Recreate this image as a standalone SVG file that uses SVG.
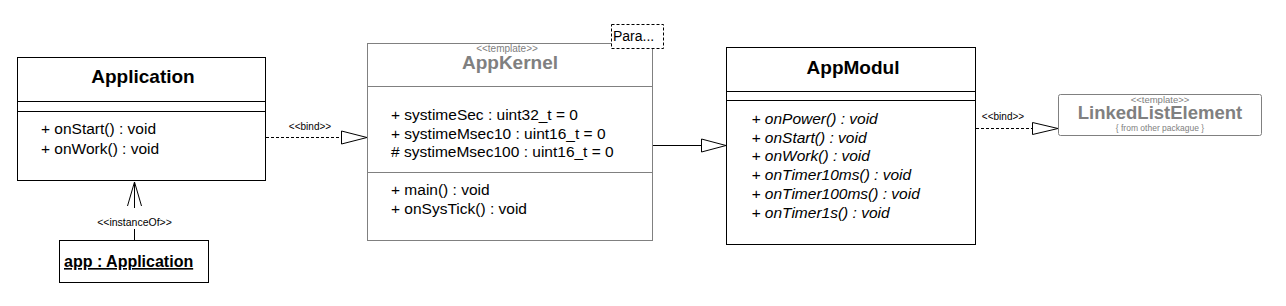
<svg xmlns="http://www.w3.org/2000/svg" width="1286" height="306" viewBox="0 0 1286 306">
<style>
text{font-family:"Liberation Sans",Arial,sans-serif;fill:#000}
.box{fill:#fff;stroke:#000;stroke-width:1}
.gbox{fill:#fff;stroke:#808080;stroke-width:1}
.line{stroke:#000;stroke-width:1;fill:none}
.gline{stroke:#808080;stroke-width:1;fill:none}
.dash{stroke:#000;stroke-width:1;fill:none;stroke-dasharray:3,2}
.head{fill:#fff;stroke:#000;stroke-width:1}
.title{font-size:19px;font-weight:bold;text-anchor:middle}
.gtitle{font-size:19px;font-weight:bold;text-anchor:middle;fill:#808080}
.member{font-size:15.5px}
.ital{font-size:15.5px;font-style:italic}
.small{font-size:10px;text-anchor:middle}
.gsmall{font-size:10px;text-anchor:middle;fill:#808080}
</style>
<rect width="1286" height="306" fill="#fff"/>
<g id="connectors">
<g id="instanceOf">
<line class="line" x1="134.5" y1="182" x2="134.5" y2="208"/>
<line class="line" x1="134.5" y1="229" x2="134.5" y2="240"/>
<polyline class="line" points="127.5,206 134.5,182 141.5,206"/>
<text class="small" x="134.5" y="226" style="font-size:10.5px">&lt;&lt;instanceOf&gt;&gt;</text>
</g>
<g id="bind1">
<line class="dash" x1="266" y1="137.5" x2="341" y2="137.5"/>
<polygon class="head" points="341.5,131 367,137.5 341.5,144"/>
<text class="small" x="310" y="130">&lt;&lt;bind&gt;&gt;</text>
</g>
<g id="generalization">
<line class="line" x1="653" y1="145.5" x2="701" y2="145.5"/>
<polygon class="head" points="701.5,139 726,145.5 701.5,152"/>
</g>
<g id="bind2">
<line class="dash" x1="976" y1="128.5" x2="1032" y2="128.5"/>
<polygon class="head" points="1032.5,122.5 1058,128.5 1032.5,134.5"/>
<text class="small" x="1003" y="120">&lt;&lt;bind&gt;&gt;</text>
</g>
</g>
<g id="Application">
<rect class="box" x="17.5" y="57.5" width="248" height="123"/>
<line class="line" x1="17.5" y1="101.5" x2="265.5" y2="101.5"/>
<line class="line" x1="17.5" y1="111.5" x2="265.5" y2="111.5"/>
<text class="title" x="143" y="83">Application</text>
<text class="member" x="41" y="134">+ onStart() : void</text>
<text class="member" x="41" y="153.5">+ onWork() : void</text>
</g>
<g id="app">
<rect class="box" x="59.5" y="240.5" width="149" height="42"/>
<text x="64" y="267" style="font-size:16px;font-weight:bold;text-decoration:underline">app : Application</text>
</g>
<g id="AppKernel">
<rect class="gbox" x="367.5" y="43.5" width="285" height="197"/>
<line class="gline" x1="367.5" y1="86.5" x2="652.5" y2="86.5"/>
<line class="gline" x1="367.5" y1="172.5" x2="652.5" y2="172.5"/>
<text class="gsmall" x="507" y="51.5">&lt;&lt;template&gt;&gt;</text>
<text class="gtitle" x="510" y="69">AppKernel</text>
<text class="member" x="391" y="120">+ systimeSec : uint32_t = 0</text>
<text class="member" x="391" y="138.7">+ systimeMsec10 : uint16_t = 0</text>
<text class="member" x="391" y="157.4"># systimeMsec100 : uint16_t = 0</text>
<text class="member" x="391" y="195">+ main() : void</text>
<text class="member" x="391" y="214">+ onSysTick() : void</text>
<g id="param">
<rect x="611.5" y="24.5" width="52" height="24" fill="#fff" stroke="#000" stroke-dasharray="3,2"/>
<text x="613" y="41" style="font-size:14px">Para...</text>
</g>
</g>
<g id="AppModul">
<rect class="box" x="726.5" y="47.5" width="249" height="197"/>
<line class="line" x1="726.5" y1="91.5" x2="975.5" y2="91.5"/>
<line class="line" x1="726.5" y1="100.5" x2="975.5" y2="100.5"/>
<text class="title" x="853" y="73.5">AppModul</text>
<text class="ital" x="751.5" y="124">+ onPower() : void</text>
<text class="ital" x="751.5" y="142.7">+ onStart() : void</text>
<text class="ital" x="751.5" y="161.4">+ onWork() : void</text>
<text class="ital" x="751.5" y="180.1">+ onTimer10ms() : void</text>
<text class="ital" x="751.5" y="198.8">+ onTimer100ms() : void</text>
<text class="ital" x="751.5" y="217.5">+ onTimer1s() : void</text>
</g>
<g id="LinkedListElement">
<rect class="gbox" x="1058.5" y="94.5" width="203" height="41" rx="2"/>
<text class="gsmall" x="1160" y="102.5" style="font-size:9.5px">&lt;&lt;template&gt;&gt;</text>
<text class="gtitle" x="1160" y="119" style="font-size:18.5px">LinkedListElement</text>
<text class="gsmall" x="1160" y="130.5" style="font-size:8.5px">{ from other packague }</text>
</g>
</svg>
